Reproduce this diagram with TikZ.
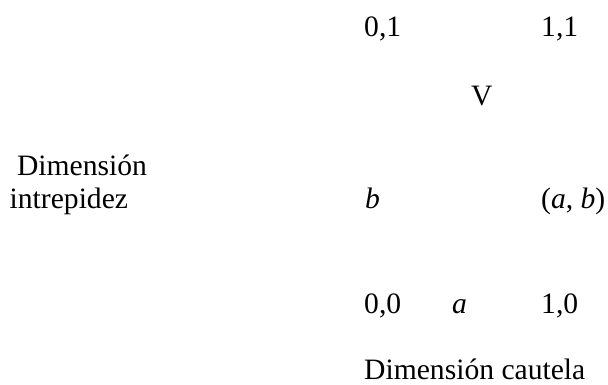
\documentclass[tikz,border=0pt]{standalone}
\usepackage{fontspec}
\setmainfont{Liberation Serif}
\usetikzlibrary{positioning}
\begin{document}
\begin{tikzpicture}[
  x=1pt,y=1pt,
  lbl/.style={anchor=base west,inner sep=0pt,font=\fontsize{29.6}{33}\selectfont},
  axislbl/.style={lbl,align=left}
]
\useasboundingbox (0,0) rectangle (608,-384);
% corners of the unit square
\node[lbl] (p01) at (364,-36) {0,1};
\node[lbl] (p11) at (541,-36) {1,1};
\node[lbl] (p00) at (364,-313) {0,0};
\node[lbl] (p10) at (541,-313) {1,0};
% vertex and point
\node[lbl] (vtx) at (471,-105) {V};
\node[lbl] (bval) at (365,-208) {\textit{b}};
\node[lbl] (aval) at (452,-313) {\textit{a}};
\node[lbl] (pt) at (541,-208) {(\textit{a}, \textit{b})};
% axis names
\node[axislbl] (dimI) at (9.5,-208) {\hspace*{0.25em}Dimensión\\intrepidez};
\node[lbl] (dimC) at (364,-379) {Dimensión cautela};
\end{tikzpicture}
\end{document}
